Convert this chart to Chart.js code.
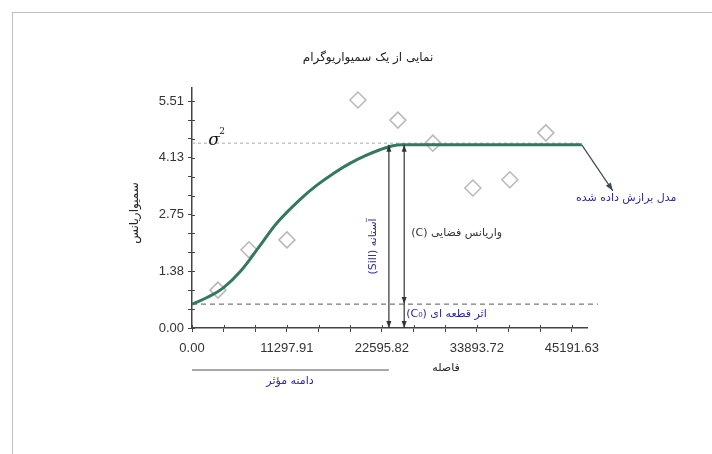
<!DOCTYPE html>
<html>
<head>
<meta charset="utf-8">
<script src="https://cdn.jsdelivr.net/npm/chart.js@4.4.1/dist/chart.umd.min.js"></script>
<style>
  html, body { margin: 0; padding: 0; background: #fff; }
  #wrap { position: relative; width: 712px; height: 454px; overflow: hidden; }
  #frame { position: absolute; left: 12px; top: 12px; width: 720px; height: 460px;
           border-left: 1px solid #bdbdbd; border-top: 1px solid #bdbdbd; }
  canvas { position: absolute; left: 0; top: 0; }
</style>
</head>
<body>
<div id="wrap">
  <div id="frame"></div>
  <canvas id="chart" width="712" height="454"></canvas>
</div>
<script>
// tick labels (major ticks, 2 minor ticks between each)
const xTickValues = [0, 11297.91, 22595.82, 33893.72, 45191.63];
const xTickLabels = ['0.00', '11297.91', '22595.82', '33893.72', '45191.63'];
const yTickValues = [0, 1.3775, 2.755, 4.1325, 5.51];
const yTickLabels = ['0.00', '1.38', '2.75', '4.13', '5.51'];

// fitted model curve
const curveDist = [0, 1784, 3687, 5827, 8087, 10227, 12844, 14866, 17006, 18790, 20574, 22358, 23785, 25000, 46381];
const curveGamma = [0.58, 0.74, 0.97, 1.39, 2.00, 2.58, 3.12, 3.47, 3.78, 4.00, 4.18, 4.33, 4.42, 4.45, 4.45];

// experimental semivariogram points
const sampleDist = [3092, 6779, 11298, 19742, 24499, 28661, 33418, 37818, 42100];
const sampleGamma = [0.92, 1.90, 2.14, 5.54, 5.05, 4.49, 3.40, 3.60, 4.74];

const nugget = 0.58;
const sill = 4.45;
const sigma2 = 4.49;
const rangeDist = 23428;   // sill arrow / effective range
const cDist = 25247;       // partial sill arrow
const nuggetEnd = 48300;

const faFont = "'DejaVu Sans', sans-serif";
const blue = '#2b2b9e';

function withMinor(major) {
  const out = [];
  for (let i = 0; i < major.length - 1; i++) {
    const a = major[i], b = major[i + 1];
    out.push(a, a + (b - a) / 3, a + 2 * (b - a) / 3);
  }
  out.push(major[major.length - 1]);
  return out;
}

function arrowHead(ctx, x1, y1, x2, y2, len, w) {
  const ang = Math.atan2(y2 - y1, x2 - x1);
  ctx.beginPath();
  ctx.moveTo(x2, y2);
  ctx.lineTo(x2 - len * Math.cos(ang) + w * Math.sin(ang), y2 - len * Math.sin(ang) - w * Math.cos(ang));
  ctx.lineTo(x2 - len * Math.cos(ang) - w * Math.sin(ang), y2 - len * Math.sin(ang) + w * Math.cos(ang));
  ctx.closePath();
  ctx.fill();
}

function text(ctx, str, x, y, opts) {
  ctx.save();
  ctx.font = opts.font || ('12px ' + faFont);
  ctx.fillStyle = opts.color || '#222';
  ctx.direction = opts.dir || 'rtl';
  ctx.textAlign = opts.align || 'center';
  ctx.textBaseline = 'middle';
  ctx.translate(x, y);
  if (opts.rot) ctx.rotate(opts.rot);
  ctx.fillText(str, 0, 0);
  ctx.restore();
}

const annotations = {
  id: 'annotations',
  afterDraw(chart) {
    const { ctx, chartArea: a, scales: { x, y } } = chart;
    const y0 = y.getPixelForValue(0);
    const ySill = y.getPixelForValue(sill);
    const yNug = y.getPixelForValue(nugget);
    const xr = x.getPixelForValue(rangeDist);
    const xc = x.getPixelForValue(cDist);

    ctx.save();
    // tick marks also reach into the plot, like the original
    ctx.strokeStyle = '#444';
    ctx.lineWidth = 1;
    x.ticks.forEach(t => {
      const px = Math.round(x.getPixelForValue(t.value)) + 0.5;
      ctx.beginPath(); ctx.moveTo(px, a.bottom); ctx.lineTo(px, a.bottom - 3); ctx.stroke();
    });
    y.ticks.forEach(t => {
      const py = Math.round(y.getPixelForValue(t.value)) + 0.5;
      ctx.beginPath(); ctx.moveTo(a.left, py); ctx.lineTo(a.left + 3, py); ctx.stroke();
    });

    ctx.strokeStyle = '#333';
    ctx.fillStyle = '#333';
    ctx.lineWidth = 1.2;

    // sill arrow
    ctx.beginPath(); ctx.moveTo(xr, y0); ctx.lineTo(xr, ySill); ctx.stroke();
    arrowHead(ctx, xr, y0 - 10, xr, ySill, 7, 2.5);
    arrowHead(ctx, xr, ySill + 10, xr, y0, 7, 2.5);

    // partial sill arrow
    ctx.beginPath(); ctx.moveTo(xc, y0); ctx.lineTo(xc, ySill); ctx.stroke();
    arrowHead(ctx, xc, yNug, xc, ySill, 7, 2.5);
    arrowHead(ctx, xc, ySill, xc, yNug, 7, 2.5);
    arrowHead(ctx, xc, yNug, xc, y0, 7, 2.5);

    // range line under the axis
    const yRange = a.bottom + 42;
    ctx.strokeStyle = '#555';
    ctx.beginPath(); ctx.moveTo(x.getPixelForValue(0), yRange); ctx.lineTo(xr, yRange); ctx.stroke();

    // fitted model pointer
    const ex = x.getPixelForValue(curveDist[curveDist.length - 1]);
    ctx.strokeStyle = '#3c4a55';
    ctx.fillStyle = '#3c4a55';
    ctx.beginPath(); ctx.moveTo(ex, ySill); ctx.lineTo(ex + 31, ySill + 46); ctx.stroke();
    arrowHead(ctx, ex, ySill, ex + 31, ySill + 46, 8, 3);
    ctx.restore();

    // texts
    text(ctx, 'نمایی از یک سمیواریوگرام', 368, 58, { font: '12px ' + faFont });
    text(ctx, 'سمیواریانس', 135, 213, { rot: -Math.PI / 2, font: '12px ' + faFont });
    text(ctx, 'فاصله', 446, a.bottom + 40, { font: '11px ' + faFont });
    text(ctx, 'σ', x.getPixelForValue(0) + 22, y.getPixelForValue(sigma2) - 3,
      { font: 'italic 17px "DejaVu Serif", serif', color: '#111', dir: 'ltr' });
    text(ctx, '2', x.getPixelForValue(0) + 30, y.getPixelForValue(sigma2) - 12,
      { font: '9px "DejaVu Serif", serif', color: '#111', dir: 'ltr' });
    text(ctx, 'آستانه (Sill)', xr - 16, (y0 + ySill) / 2 + 10,
      { rot: -Math.PI / 2, font: '11px ' + faFont, color: blue });
    text(ctx, 'واریانس فضایی (C)', xc + 7, 233, { align: 'left', font: '11px ' + faFont, color: '#333' });
    text(ctx, 'اثر قطعه ای (C₀)', xc + 2, yNug + 10, { align: 'left', font: '11px ' + faFont, color: blue });
    text(ctx, 'دامنه مؤثر', 290, a.bottom + 53, { font: '11px ' + faFont, color: blue });
    text(ctx, 'مدل برازش داده شده', 576, ySill + 53, { align: 'left', font: '11px ' + faFont, color: blue });
  }
};

const curve = curveDist.map((d, i) => ({ x: d, y: curveGamma[i] }));
const samples = sampleDist.map((d, i) => ({ x: d, y: sampleGamma[i] }));

new Chart(document.getElementById('chart'), {
  type: 'line',
  data: {
    datasets: [
      {
        data: curve,
        borderColor: '#35795d',
        borderWidth: 3,
        pointRadius: 0,
        tension: 0.4,
        clip: false,
        order: 0
      },
      {
        data: [{ x: 0, y: sigma2 }, { x: curveDist[curveDist.length - 1], y: sigma2 }],
        borderColor: '#a9a9a9',
        borderWidth: 1,
        borderDash: [3, 3],
        pointRadius: 0,
        order: 2
      },
      {
        data: [{ x: 0, y: nugget }, { x: nuggetEnd, y: nugget }],
        borderColor: '#555',
        borderWidth: 1,
        borderDash: [5, 4],
        pointRadius: 0,
        clip: false,
        order: 2
      },
      {
        data: samples,
        showLine: false,
        pointStyle: 'rectRot',
        pointRadius: 8,
        pointBackgroundColor: 'rgba(255,255,255,0)',
        pointBorderColor: '#b8b8b8',
        pointBorderWidth: 1.5,
        order: 3
      }
    ]
  },
  options: {
    responsive: false,
    animation: false,
    layout: { padding: { left: 152, right: 125, top: 88, bottom: 86 } },
    plugins: { legend: { display: false }, tooltip: { enabled: false } },
    scales: {
      x: {
        type: 'linear',
        min: 0,
        max: 47000,
        afterBuildTicks: s => { s.ticks = withMinor(xTickValues).map(v => ({ value: v })); },
        afterFit: s => { s.height = 40; },
        ticks: {
          autoSkip: false,
          maxRotation: 0,
          padding: 9,
          color: '#333',
          font: { family: "'Liberation Sans', Arial, sans-serif", size: 13 },
          callback: (v, i) => (i % 3 === 0 ? xTickLabels[i / 3] : '')
        },
        grid: { drawOnChartArea: false, drawTicks: true, tickLength: 4, color: '#444' },
        border: { color: '#444', width: 1.5 }
      },
      y: {
        type: 'linear',
        min: 0,
        max: 5.83,
        afterBuildTicks: s => { s.ticks = withMinor(yTickValues).map(v => ({ value: v })); },
        afterFit: s => { s.width = 40; },
        ticks: {
          autoSkip: false,
          padding: 4,
          color: '#333',
          font: { family: "'Liberation Sans', Arial, sans-serif", size: 13 },
          callback: (v, i) => (i % 3 === 0 ? yTickLabels[i / 3] : '')
        },
        grid: { drawOnChartArea: false, drawTicks: true, tickLength: 4, color: '#444' },
        border: { color: '#444', width: 1.5 }
      }
    }
  },
  plugins: [annotations]
});
</script>
</body>
</html>
